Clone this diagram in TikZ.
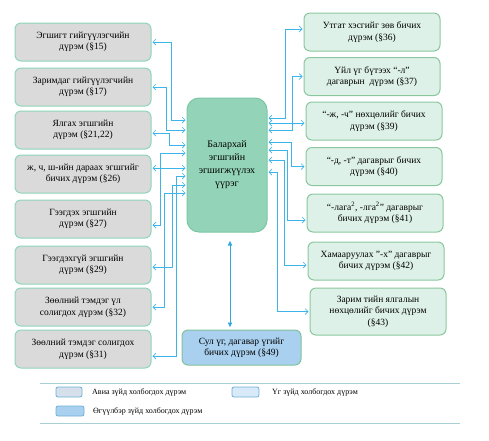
\documentclass[tikz,border=0pt]{standalone}
\usepackage{fontspec}
\setmainfont{Liberation Serif}
\usetikzlibrary{arrows.meta}

\definecolor{leftfill}{HTML}{DADADA}
\definecolor{leftline}{HTML}{8ED5B9}
\definecolor{rightfill}{HTML}{DDF1E8}
\definecolor{rightline}{HTML}{8AC79E}
\definecolor{hubfill}{HTML}{93D4B8}
\definecolor{hubline}{HTML}{7CC7A3}
\definecolor{freefill}{HTML}{A9D0EF}
\definecolor{freeline}{HTML}{7FC29C}
\definecolor{linkblue}{HTML}{3DB5EA}
\definecolor{tieblue}{HTML}{2FA8E0}
\definecolor{legline}{HTML}{A8CFD2}
\definecolor{swatchline}{HTML}{6FAFD6}
\definecolor{swatchA}{HTML}{D5E0EA}
\definecolor{swatchB}{HTML}{D8EAF8}

\begin{document}
\begin{tikzpicture}[
    x=1pt, y=-1pt,
    lbox/.style={rectangle, rounded corners=6pt, draw=leftline, line width=1pt, fill=leftfill, minimum width=136pt, minimum height=38pt, inner sep=2pt, align=center, font=\fontsize{9.5}{11.5}\selectfont},
    rbox/.style={lbox, draw=rightline, fill=rightfill},
    hub/.style={rectangle, rounded corners=12pt, draw=hubline, line width=1pt, fill=hubfill, minimum width=80pt, minimum height=134pt, align=center, font=\fontsize{10}{13}\selectfont},
    free/.style={lbox, draw=freeline, fill=freefill, minimum width=119pt, minimum height=35pt},
    link/.style={draw=linkblue, line width=.7pt, {Straight Barb[length=3pt,width=6pt]}-{Straight Barb[length=3pt,width=6pt]}, shorten <=1pt, shorten >=1pt},
    tie/.style={draw=tieblue, line width=.8pt, {Latex[length=5pt,width=5pt]}-{Latex[length=5pt,width=5pt]}},
    swatch/.style={rectangle, rounded corners=2pt, draw=swatchline, line width=.8pt, minimum width=26pt, minimum height=10pt, inner sep=0pt},
    legtext/.style={anchor=west, inner sep=0pt, font=\fontsize{8}{9.5}\selectfont}
]
\useasboundingbox (0,0) rectangle (489,440);

% Левая колонка
\node[lbox] (left1) at (83,42) {Эгшигт гийгүүлэгчийн\\дүрэм (§15)};
\node[lbox] (left2) at (83,87) {Заримдаг гийгүүлэгчийн\\дүрэм (§17)};
\node[lbox] (left3) at (83,130) {Ялгах эгшгийн\\дүрэм (§21,22)};
\node[lbox] (left4) at (83,174) {ж, ч, ш-ийн дараах эгшгийг\\бичих дүрэм (§26)};
\node[lbox] (left5) at (83,219) {Гээгдэх эгшгийн\\дүрэм (§27)};
\node[lbox] (left6) at (83,265) {Гээгдэхгүй эгшгийн\\дүрэм (§29)};
\node[lbox] (left7) at (83,307) {Зөөлний тэмдэг үл\\солигдох дүрэм (§32)};
\node[lbox] (left8) at (83,349) {Зөөлний тэмдэг солигдох\\дүрэм (§31)};

% Центр
\node[hub] (hub) at (227,165) {Балархай\\эгшгийн\\эгшигжүүлэх\\үүрэг};
\node[free] (free) at (241.5,347.5) {Сул үг, дагавар үгийг\\бичих дүрэм (§49)};

% Правая колонка
\node[rbox] (right1) at (372,32) {Утгат хэсгийг зөв бичих\\дүрэм (§36)};
\node[rbox] (right2) at (372,76.5) {Үйл үг бүтээх “-л”\\дагаврын\ \ дүрэм (§37)};
\node[rbox] (right3) at (374,121) {“-ж, -ч” нөхцөлийг бичих\\дүрэм (§39)};
\node[rbox] (right4) at (374,166.5) {“-д, -т” дагаврыг бичих\\дүрэм (§40)};
\node[rbox] (right5) at (375,213) {“-лага\textsuperscript{2}, -лга\textsuperscript{2}” дагаврыг\\бичих дүрэм (§41)};
\node[rbox] (right6) at (376,261) {Хамааруулах "-х" дагаврыг\\бичих дүрэм (§42)};
\node[rbox, minimum height=47pt] (right7) at (378,311.5) {Зарим тийн ялгалын\\нөхцөлийг бичих дүрэм\\(§43)};

% Связи слева
\draw[link] (left1.east) -- ++(20,0) |- ([yshift=45pt]hub.west);
\draw[link] (left2.east) -- ++(15,0) |- ([yshift=35pt]hub.west);
\draw[link] ([yshift=-3pt]left3.east) -- ++(18,0) |- ([yshift=20pt]hub.west);
\draw[link] ([yshift=6pt]left4.east) -- ([yshift=6pt]left4.east -| hub.west);
\draw[link] ([yshift=-6pt]left5.east) -- ++(9,0) |- ([yshift=12pt]hub.west);
\draw[link] ([yshift=-2pt]left6.east) -- ++(21,0) |- ([yshift=-20pt]hub.west);
\draw[link] (left7.east) -- ++(13,0) |- ([yshift=-28pt]hub.west);
\draw[link] ([yshift=-7pt]left8.east) -- ++(25,0) |- ([yshift=-11pt]hub.west);

% Связи справа
\draw[link] ([yshift=3pt]right1.west) -- ++(-18,0) |- ([yshift=47pt]hub.east);
\draw[link] (right2.west) -- ++(-11,0) |- ([yshift=35pt]hub.east);
\draw[link] ([yshift=-2pt]right3.west) -- ([yshift=-2pt]right3.west -| hub.east);
\draw[link] (right4.west) -- ++(-14,0) |- ([yshift=23pt]hub.east);
\draw[link] ([yshift=-7pt]right5.west) -- ++(-19,0) |- ([yshift=15pt]hub.east);
\draw[link] ([yshift=-4pt]right6.west) -- ++(-23,0) |- ([yshift=5pt]hub.east);
\draw[link] (right7.west) -- ++(-32,0) |- ([yshift=-7pt]hub.east);

% Связь вниз
\draw[tie] ([xshift=3pt,yshift=-8pt]hub.south) -- ([xshift=3pt,yshift=2pt]hub.south |- free.north);

% Легенда
\draw[legline, line width=1pt] (40,383) coordinate (legtop) -- (460,383);
\draw[legline, line width=1pt] (40,423) coordinate (legbot) -- (460,423);
\node[swatch, fill=swatchA] (keyA) at (69,392) {};
\node[legtext] (textA) at (92,392) {Авиа зүйд холбогдох дүрэм};
\node[swatch, fill=swatchB, minimum width=27pt] (keyB) at (245.5,392) {};
\node[legtext] (textB) at (272,392) {Үг зүйд холбогдох дүрэм};
\node[swatch, fill=freefill, minimum width=28pt] (keyC) at (70,411) {};
\node[legtext] (textC) at (93,411) {Өгүүлбэр зүйд холбогдох дүрэм};
\end{tikzpicture}
\end{document}
